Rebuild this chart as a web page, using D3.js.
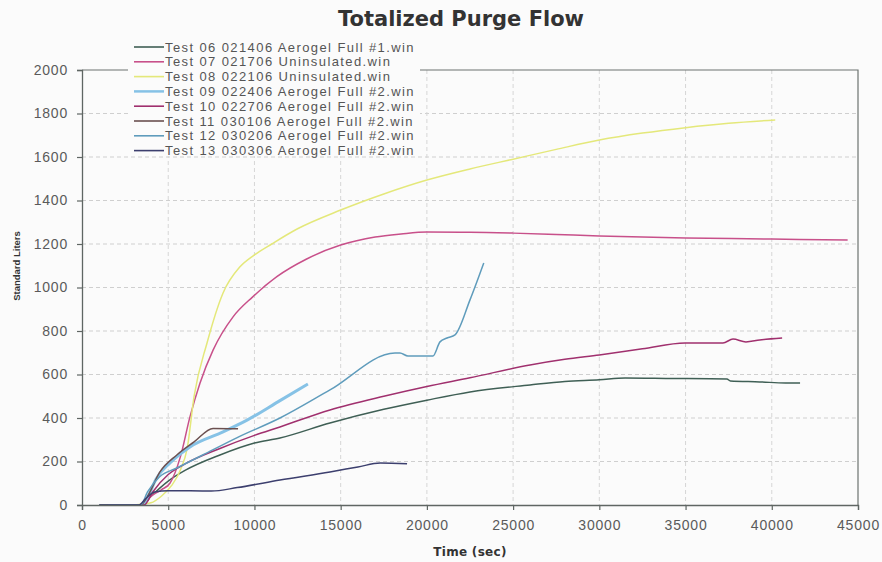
<!DOCTYPE html>
<html>
<head>
<meta charset="utf-8">
<script src="https://cdn.jsdelivr.net/npm/d3@7"></script>
<style>
body { margin: 0; background: #fbfbfb; }
svg { display: block; }
</style>
</head>
<body>
<svg width="882" height="562"></svg>
<script>
// series names, in legend order
var names = [
  "Test 06 021406 Aerogel Full #1.win",
  "Test 07 021706 Uninsulated.win",
  "Test 08 022106 Uninsulated.win",
  "Test 09 022406 Aerogel Full #2.win",
  "Test 10 022706 Aerogel Full #2.win",
  "Test 11 030106 Aerogel Full #2.win",
  "Test 12 030206 Aerogel Full #2.win",
  "Test 13 030306 Aerogel Full #2.win"
];
var colors = ["#3f5f55", "#c8508a", "#e4e87a", "#86c2e6", "#a0306e", "#6b5050", "#5f9cbc", "#3c3f6e"];
var widths = [1.5, 1.5, 1.5, 3, 1.5, 1.5, 1.5, 1.5];

// [time (sec), standard liters]
var test06 = [[1000,0],[3500,0],[4000,40],[5000,110],[6000,160],[8000,230],[10000,285],[11480,308],[14380,377],[17500,440],[20000,482],[22500,520],[25980,552],[28000,568],[30000,576],[31500,584],[34000,582],[37400,579],[37600,570],[39300,566],[40800,561],[41640,561]];
var test07 = [[1500,0],[3500,0],[4000,40],[4600,70],[5100,100],[5700,220],[6260,405],[6840,560],[7600,712],[8760,865],[9900,957],[11300,1050],[13000,1130],[15000,1195],[17000,1232],[18500,1246],[20000,1255],[22500,1254],[25000,1250],[27500,1244],[30000,1237],[35000,1228],[40000,1223],[44400,1218]];
var test08 = [[3000,0],[4000,10],[4600,40],[5200,90],[5700,160],[6100,260],[6500,500],[7250,745],[8180,975],[9160,1095],[10000,1150],[11000,1200],[12500,1270],[15000,1356],[17500,1430],[20000,1494],[22500,1545],[25000,1590],[27500,1635],[30000,1678],[32500,1710],[35000,1735],[37500,1755],[40200,1770]];
var test09 = [[3600,0],[3900,50],[4300,120],[5100,193],[6260,267],[8180,336],[9570,390],[11480,480],[13100,556]];
var test10 = [[1500,0],[3600,0],[4100,60],[5000,140],[6000,190],[8000,260],[10000,320],[11480,359],[14380,437],[17500,500],[20000,545],[22500,585],[25980,644],[28000,670],[30000,690],[32500,718],[34970,745],[37170,745],[37750,763],[38500,750],[39300,759],[40600,768]];
var test11 = [[1500,0],[3400,0],[3800,40],[4500,150],[5500,230],[6500,290],[7600,352],[9050,350]];
var test12 = [[1500,0],[3400,0],[3800,60],[4500,130],[5500,170],[7000,230],[9000,310],[11480,400],[14380,529],[18150,699],[18440,699],[18900,685],[20350,685],[20760,750],[21170,768],[21630,782],[22500,943],[23300,1113]];
var test13 = [[1000,0],[3300,0],[3700,30],[4200,60],[5000,66],[7500,64],[9000,80],[11480,115],[14380,152],[16000,175],[17300,193],[18850,190]];
var seriesData = [test06, test07, test08, test09, test10, test11, test12, test13];

var xTicks = [0, 5000, 10000, 15000, 20000, 25000, 30000, 35000, 40000, 45000];
var yTicks = [0, 200, 400, 600, 800, 1000, 1200, 1400, 1600, 1800, 2000];

var svg = d3.select("svg");
var pLeft = 82, pRight = 858, pTop = 70, pBottom = 505;

var x = d3.scaleLinear().domain([0, 45000]).range([pLeft, pRight]);
var y = d3.scaleLinear().domain([0, 2000]).range([pBottom, pTop]);

// grid
svg.append("g").selectAll("line")
  .data(yTicks.slice(1, -1))
  .enter().append("line")
  .attr("x1", pLeft).attr("x2", pRight)
  .attr("y1", function(d) { return y(d); }).attr("y2", function(d) { return y(d); })
  .attr("stroke", "#cfcfcf").attr("stroke-dasharray", "4,3");
svg.append("g").selectAll("line")
  .data(xTicks.slice(1, -1))
  .enter().append("line")
  .attr("y1", pTop).attr("y2", pBottom)
  .attr("x1", function(d) { return x(d); }).attr("x2", function(d) { return x(d); })
  .attr("stroke", "#d6d6d6").attr("stroke-dasharray", "4,3");

// plot border (top, right)
svg.append("path")
  .attr("d", "M" + pLeft + "," + pTop + "H" + pRight + "V" + pBottom)
  .attr("fill", "none").attr("stroke", "#6d7370").attr("stroke-width", 1.2);

// lines
var line = d3.line()
  .curve(d3.curveMonotoneX)
  .x(function(d) { return x(d[0]); })
  .y(function(d) { return y(d[1]); });

seriesData.forEach(function(s, i) {
  svg.append("path")
    .datum(s)
    .attr("d", line)
    .attr("fill", "none")
    .attr("stroke", colors[i])
    .attr("stroke-width", widths[i])
    .attr("stroke-linejoin", "round");
});

// axes
var xAxis = svg.append("g")
  .attr("transform", "translate(0," + pBottom + ")")
  .call(d3.axisBottom(x).tickValues(xTicks).tickSize(5).tickPadding(10).tickFormat(d3.format("d")));
var yAxis = svg.append("g")
  .attr("transform", "translate(" + pLeft + ",0)")
  .call(d3.axisLeft(y).tickValues(yTicks).tickSize(5).tickPadding(9).tickFormat(d3.format("d")));

[xAxis, yAxis].forEach(function(a) {
  a.select(".domain").attr("stroke", "#5f6663").attr("stroke-width", 1.3);
  a.selectAll(".tick line").attr("stroke", "#5f6663").attr("stroke-width", 1.2);
  a.selectAll("text")
    .attr("fill", "#5a5a5a")
    .style("font-family", "Liberation Sans, Arial, sans-serif")
    .style("font-size", "14px")
    .style("letter-spacing", "0.8px");
});

// legend
var legend = svg.append("g");
legend.append("rect")
  .attr("x", 128).attr("y", 38).attr("width", 292).attr("height", 118)
  .attr("fill", "#fbfbfb");
names.forEach(function(n, i) {
  var ly = 47 + i * 14.8;
  legend.append("line")
    .attr("x1", 134).attr("x2", 164)
    .attr("y1", ly).attr("y2", ly)
    .attr("stroke", colors[i]).attr("stroke-width", i == 3 ? 2.5 : 1.6);
  legend.append("text")
    .attr("x", 165).attr("y", ly + 4.5)
    .attr("fill", "#555")
    .style("font-family", "Liberation Sans, Arial, sans-serif")
    .style("font-size", "13px")
    .style("letter-spacing", "1.4px")
    .text(n);
});

// titles
svg.append("text")
  .attr("x", 461).attr("y", 26)
  .attr("text-anchor", "middle")
  .attr("fill", "#333")
  .style("font-family", "DejaVu Sans, Verdana, sans-serif")
  .style("font-weight", "bold")
  .style("font-size", "21px")
  .text("Totalized Purge Flow");

svg.append("text")
  .attr("x", 470).attr("y", 556)
  .attr("text-anchor", "middle")
  .attr("fill", "#333")
  .style("font-family", "DejaVu Sans, Verdana, sans-serif")
  .style("font-weight", "bold")
  .style("font-size", "12px")
  .style("letter-spacing", "0.3px")
  .text("Time (sec)");

svg.append("text")
  .attr("transform", "translate(20,266) rotate(-90)")
  .attr("text-anchor", "middle")
  .attr("fill", "#333")
  .style("font-family", "Liberation Sans, Arial, sans-serif")
  .style("font-weight", "bold")
  .style("font-size", "9.5px")
  .text("Standard Liters");
</script>
</body>
</html>
